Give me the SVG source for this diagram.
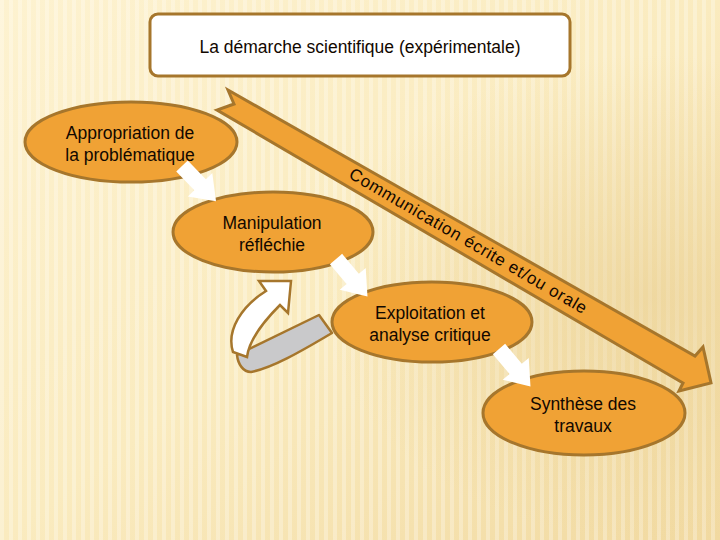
<svg xmlns="http://www.w3.org/2000/svg" width="720" height="540" viewBox="0 0 720 540">
  <defs>
    <linearGradient id="bg" x1="0" y1="0" x2="1" y2="1">
      <stop offset="0" stop-color="#fdf2d0"/>
      <stop offset="0.5" stop-color="#faebbf"/>
      <stop offset="1" stop-color="#f1d9a0"/>
    </linearGradient>
    <radialGradient id="shade" cx="0.9" cy="0.55" r="0.45">
      <stop offset="0" stop-color="#e9cf92" stop-opacity="0.55"/>
      <stop offset="1" stop-color="#e9cf92" stop-opacity="0"/>
    </radialGradient>
    <pattern id="stripes" width="9" height="10" patternUnits="userSpaceOnUse">
      <rect x="0" y="0" width="4" height="10" fill="#ffffff" fill-opacity="0.28"/>
    </pattern>
    <path id="warrow" d="M0,-8 L26,-8 L26,-17 L49,0 L26,17 L26,8 L0,8 Z"/>
  </defs>
  <style>
    .node ellipse { fill: #f0a235; stroke: #a6762c; stroke-width: 3; }
    .lbl { font-family: "Liberation Sans", Arial, sans-serif; font-size: 17.5px; fill: #120800; text-anchor: middle; }
    .warr { fill: #ffffff; }
    .band { fill: #f0a235; stroke: #a6762c; stroke-width: 3; stroke-linejoin: miter; }
  </style>

  <rect width="720" height="540" fill="url(#bg)"/>
  <rect width="720" height="540" fill="url(#stripes)"/>
  <rect width="720" height="540" fill="url(#shade)"/>

  <g id="connectors">
    <g id="communication-arrow">
      <path class="band" d="M228,90 L695,356 L703,347 L711,383 L679,391 L683,383 L217,110 L234,104 Z"/>
      <text class="lbl" transform="translate(468,241) rotate(30.2)" dominant-baseline="central" textLength="272" lengthAdjust="spacing" style="font-size:17px">Communication écrite et/ou orale</text>
    </g>
  </g>

  <g id="appropriation" class="node">
    <ellipse cx="131" cy="142" rx="106" ry="40"/>
    <text class="lbl" x="130" y="139">Appropriation de</text>
    <text class="lbl" x="130" y="161">la problématique</text>
  </g>
  <g id="manipulation" class="node">
    <ellipse cx="273" cy="232" rx="100" ry="40"/>
    <text class="lbl" x="272" y="229">Manipulation</text>
    <text class="lbl" x="272" y="251">réfléchie</text>
  </g>

  <g id="loop-arrow">
    <path d="M237,355 L319,315 L332,333 C300,352 272,368 251,372 C243,372 238,364 237,355 Z" fill="#c9c9cb" stroke="#a6762c" stroke-width="2.5" stroke-linejoin="round"/>
    <path d="M259,281 L291,281 L288,313 L280,305 C263,322 249,340 247,357 L233,352 C226,330 242,306 266,291 Z" fill="#ffffff" stroke="#a6762c" stroke-width="2.5" stroke-linejoin="miter"/>
  </g>

  <g id="exploitation" class="node">
    <ellipse cx="432" cy="322" rx="100" ry="40"/>
    <text class="lbl" x="430" y="319">Exploitation et</text>
    <text class="lbl" x="430" y="341">analyse critique</text>
  </g>
  <g id="synthese" class="node">
    <ellipse cx="584" cy="413" rx="101" ry="42"/>
    <text class="lbl" x="583" y="410">Synthèse des</text>
    <text class="lbl" x="583" y="432">travaux</text>
  </g>

  <g id="flow-arrows">
    <use href="#warrow" class="warr" transform="translate(182,166) rotate(46)"/>
    <use href="#warrow" class="warr" transform="translate(336,259) rotate(50)"/>
    <use href="#warrow" class="warr" transform="translate(499,349) rotate(50)"/>
  </g>

  <g id="title">
    <rect x="150" y="14" width="420" height="62" rx="8" ry="8" fill="#ffffff" stroke="#a6762c" stroke-width="3"/>
    <text class="lbl" x="360" y="53">La démarche scientifique (expérimentale)</text>
  </g>
</svg>
